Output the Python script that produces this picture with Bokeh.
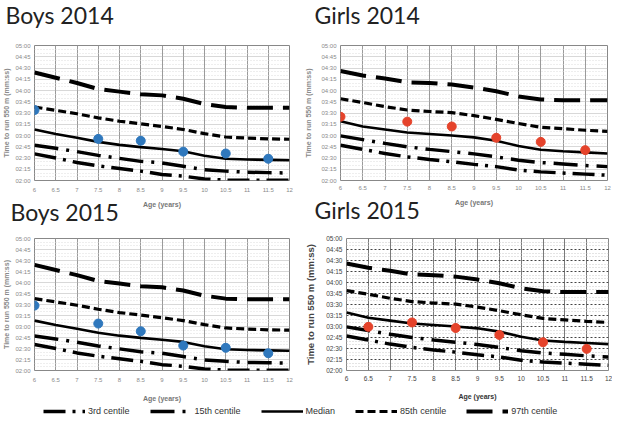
from bokeh.plotting import figure
from bokeh.layouts import column, row
from bokeh.models import FixedTicker, Legend, LegendItem, Range1d, Title
from bokeh.embed import file_html
from bokeh.resources import INLINE

# ---------------- data ----------------
ages = [6, 6.5, 7, 7.5, 8, 8.5, 9, 9.5, 10, 10.5, 11, 11.5, 12]

# reference centiles, time to run 550 m in seconds
boys_p3 = [155.5, 150, 144, 139.5, 136, 132.5, 128, 125.8, 122, 120.5, 120.5, 120.5, 120.5]
boys_p15 = [167, 163, 158.5, 153.5, 149.5, 145.5, 143.5, 139, 134.5, 132.5, 131, 130.5, 130]
boys_p50 = [188, 182, 177, 171.5, 167.5, 164.5, 162, 159, 153, 149, 148, 147.5, 147]
boys_p85 = [218, 213.5, 209, 203.5, 199, 195.5, 192, 188, 182.5, 178, 176.5, 175.5, 175]
boys_p97 = [264, 257, 250, 242, 238.5, 235, 233.5, 229, 222, 218, 217, 217, 217]

girls_p3 = [167, 161.5, 156, 151.5, 148, 145, 141.5, 138.5, 134, 131.5, 130, 128.5, 127]
girls_p15 = [179.5, 174.5, 169.5, 165, 161.5, 158.5, 155.5, 151.5, 147, 144, 142, 140, 138.5]
girls_p50 = [199, 192, 188, 184, 182, 180, 177.5, 173, 166, 161, 159, 157.5, 156]
girls_p85 = [229, 224, 218.5, 214, 212, 210.5, 206.5, 201.5, 196, 191, 189, 187, 185.5]
girls_p97 = [266, 260, 256, 251, 250, 248, 244, 239, 232, 228, 227, 227, 227]

# measured group means
boys14_age = [6, 7.5, 8.5, 9.5, 10.5, 11.5]
boys14_time = [214, 175.5, 173, 158.5, 156, 149]
girls14_age = [6, 7.5, 8.5, 9.5, 10.5, 11.5]
girls14_time = [205, 198.5, 192, 177, 171.5, 160.5]
boys15_age = [6, 7.5, 8.5, 9.5, 10.5, 11.5]
boys15_time = [208.5, 184, 173.5, 154, 151, 143.5]
girls15_age = [6.5, 7.5, 8.5, 9.5, 10.5, 11.5]
girls15_time = [179.5, 185.5, 178, 168.5, 158.5, 149.5]

panel_titles = ["Boys 2014", "Girls 2014", "Boys 2015", "Girls 2015"]
centile_names = ["3rd centile", "15th centile", "Median", "85th centile", "97th centile"]

x_ticks = [6.0, 6.5, 7.0, 7.5, 8.0, 8.5, 9.0, 9.5, 10.0, 10.5, 11.0, 11.5, 12.0]
x_tick_labels = ["6", "6.5", "7", "7.5", "8", "8.5", "9", "9.5", "10", "10.5", "11", "11.5", "12"]
y_ticks = [120, 135, 150, 165, 180, 195, 210, 225, 240, 255, 270, 285, 300]
y_tick_labels = ["02:00", "02:15", "02:30", "02:45", "03:00", "03:15", "03:30",
                 "03:45", "04:00", "04:15", "04:30", "04:45", "05:00"]
y_minor = [t for t in range(120, 301, 5) if t not in y_ticks]

# ---------------- styles ----------------
line_styles = [
    dict(line_dash="22 7 3 7", line_width=3.5),   # 3rd
    dict(line_dash="24 8 3 8", line_width=3.5),   # 15th
    dict(line_dash="solid", line_width=2.6),      # median
    dict(line_dash="8 4", line_width=3.2),        # 85th
    dict(line_dash="26 10", line_width=4),        # 97th
]
BLUE = "#2f78bd"
RED = "#e5432b"
TITLE_STYLE = dict(text_font="Lato", text_font_size="23px",
                   text_font_style="normal", text_color="#222222", align="left")


def panel(centiles, pt_age, pt_time, color, width, height,
          bl, br, bt, bb, xl_std, xa_std, ya_std, dark=False):
    p = figure(width=width, height=height,
               x_range=Range1d(6, 12), y_range=Range1d(120, 300),
               min_border_left=bl, min_border_right=br,
               min_border_top=bt, min_border_bottom=bb,
               output_backend="svg", toolbar_location=None)
    p.outline_line_color = "#888888"
    p.background_fill_color = "white"
    p.border_fill_color = "white"

    p.xaxis.ticker = FixedTicker(ticks=x_ticks)
    p.yaxis.ticker = FixedTicker(ticks=y_ticks, minor_ticks=y_minor)
    p.xaxis.major_label_overrides = dict(zip(x_ticks, x_tick_labels))
    p.yaxis.major_label_overrides = dict(zip(y_ticks, y_tick_labels))

    lab_col = "#444444" if dark else "#8a8a8a"
    p.axis.axis_line_color = None
    p.axis.major_tick_line_color = None
    p.axis.minor_tick_line_color = None
    p.axis.major_tick_out = 0
    p.axis.major_tick_in = 0
    p.axis.minor_tick_out = 0
    p.axis.minor_tick_in = 0
    p.axis.major_label_text_font = "Liberation Sans"
    p.axis.major_label_text_font_size = "6.5px" if dark else "6px"
    p.axis.major_label_text_color = lab_col
    p.xaxis.major_label_standoff = xl_std
    p.yaxis.major_label_standoff = 4

    p.xaxis.axis_label = "Age (years)"
    p.xaxis.axis_label_text_font = "Liberation Sans"
    p.xaxis.axis_label_text_font_size = "7px"
    p.xaxis.axis_label_text_font_style = "bold"
    p.xaxis.axis_label_text_color = "#333333" if dark else "#777777"
    p.xaxis.axis_label_standoff = xa_std

    p.yaxis.axis_label = "Time to run 550 m (mm:ss)"
    p.yaxis.axis_label_text_font = "Liberation Sans"
    p.yaxis.axis_label_text_font_size = "9.5px" if dark else "7px"
    p.yaxis.axis_label_text_font_style = "bold"
    p.yaxis.axis_label_text_color = "#444444" if dark else "#8a8a8a"
    p.yaxis.axis_label_standoff = ya_std

    p.xgrid.grid_line_color = "#7a7a7a" if dark else "#9a9a9a"
    p.xgrid.grid_line_width = 1
    p.ygrid.grid_line_color = "#444444" if dark else "#b0b0b0"
    p.ygrid.grid_line_dash = "2 2" if dark else "1 1"
    p.ygrid.minor_grid_line_color = "#c8c8c8" if dark else "#dddddd"
    p.ygrid.minor_grid_line_dash = "1 2"

    for vals, st in zip(centiles, line_styles):
        p.line(ages, vals, line_color="black", line_cap="butt", **st)
    p.scatter(pt_age, pt_time, size=9, marker="circle",
              fill_color=color, line_color=color)
    return p


def add_low_title(p, text, offset, standoff):
    p.add_layout(Title(text=text, offset=offset, standoff=standoff,
                       vertical_align="top", **TITLE_STYLE), "below")


def title_strip(text, width, bl, br, offset):
    # a thin, empty strip whose only content is the panel title
    s = figure(width=width, height=30, x_range=Range1d(0, 1), y_range=Range1d(0, 1),
               min_border_left=bl, min_border_right=br,
               min_border_top=0, min_border_bottom=29,
               x_axis_location=None, y_axis_location=None,
               output_backend="svg", toolbar_location=None)
    s.grid.visible = False
    s.outline_line_color = None
    s.background_fill_color = "white"
    s.border_fill_color = "white"
    add_low_title(s, text, offset, 0)
    return s


boys_c = [boys_p3, boys_p15, boys_p50, boys_p85, boys_p97]
girls_c = [girls_p3, girls_p15, girls_p50, girls_p85, girls_p97]

# title strip 30 px, top row 198 px, bottom row 176 px, legend strip 12 px
t_b14 = title_strip(panel_titles[0], 302, 29, 13, -24)
t_g14 = title_strip(panel_titles[1], 310, 38, 5, -26)
b14 = panel(boys_c, boys14_age, boys14_time, BLUE,
            302, 198, 29, 13, 15, 48, 7, 6, 2)
g14 = panel(girls_c, girls14_age, girls14_time, RED,
            310, 198, 38, 5, 15, 46, 5, 6, 6)
b15 = panel(boys_c, boys15_age, boys15_time, BLUE,
            302, 176, 29, 13, 8, 34, 7, 10, 2)
g15 = panel(girls_c, girls15_age, girls15_time, RED,
            310, 176, 41, 4, 10, 30, 5, 9, 7, dark=True)

# lower titles share the gap between the rows, beside the "Age (years)" label
add_low_title(b14, panel_titles[2], -24, -26)
add_low_title(g14, panel_titles[3], -26, -26)

# ---------------- legend strip ----------------
leg = figure(width=612, height=12, x_range=Range1d(0, 1), y_range=Range1d(0, 1),
             min_border=0, output_backend="svg", toolbar_location=None)
leg.axis.visible = False
leg.grid.visible = False
leg.outline_line_color = None
items = []
for name, st, vals in zip(centile_names, line_styles, boys_c):
    # data lies outside this strip's range: only the legend glyph is seen
    r = leg.line(ages, vals, line_color="black", line_cap="butt", **st)
    items.append(LegendItem(label=name, renderers=[r]))
legend = Legend(items=items, orientation="horizontal", location=(43, 0),
                glyph_width=42, glyph_height=10, label_standoff=3, spacing=20,
                label_text_font="Liberation Sans", label_text_font_size="9px",
                label_text_color="#333333", border_line_color=None,
                background_fill_alpha=0, padding=0, margin=0)
leg.add_layout(legend)

layout = column(row(t_b14, t_g14), row(b14, g14), row(b15, g15), leg)

open("out.html", "w").write(file_html(layout, INLINE))
